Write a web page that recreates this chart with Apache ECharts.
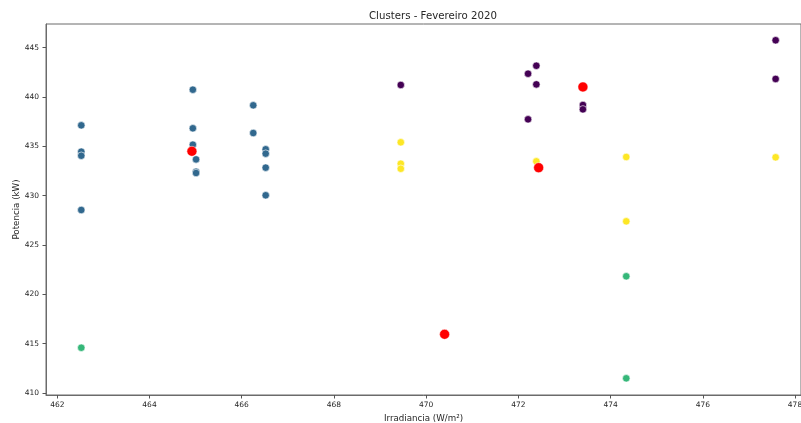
<!DOCTYPE html>
<html>
<head>
<meta charset="utf-8">
<script src="https://cdn.jsdelivr.net/npm/echarts@6/dist/echarts.min.js"></script>
<style>
  html, body { margin: 0; padding: 0; background: #fff; }
  #chart { width: 801px; height: 423px; }
</style>
</head>
<body>
<div id="chart"></div>
<script>
// Irradiance (W/m²) vs power (kW) observations, grouped by k-means cluster
const cluster0 = [
  [469.45, 441.22], [472.39, 443.17], [472.21, 442.36], [472.39, 441.28],
  [472.21, 437.74], [473.40, 439.19], [473.40, 438.75], [477.58, 445.75],
  [477.58, 441.83]
];
const cluster1 = [
  [462.52, 437.13], [462.52, 434.46], [462.52, 434.05], [462.52, 428.55],
  [464.94, 440.74], [464.94, 436.83], [464.94, 435.17],
  [465.01, 433.68], [465.01, 432.43], [465.01, 432.30],
  [466.25, 439.16], [466.25, 436.35],
  [466.52, 434.70], [466.52, 434.26], [466.52, 432.84], [466.52, 430.04]
];
const cluster2 = [
  [462.52, 414.59], [474.34, 421.83], [474.34, 411.49]
];
const cluster3 = [
  [469.45, 435.41], [469.45, 433.24], [469.45, 432.73], [472.39, 433.48],
  [474.34, 433.92], [474.34, 427.40], [477.58, 433.89]
];
const centroids = [
  [464.92, 434.50], [472.44, 432.84], [473.40, 441.02], [470.40, 415.95]
];

const clusterColors = ['#440154', '#31688e', '#35b779', '#fde725'];
const xTicks = [462, 464, 466, 468, 470, 472, 474, 476, 478];
const yTicks = [410, 415, 420, 425, 430, 435, 440, 445];

const font = 'DejaVu Sans';
const textColor = '#262626';

function clusterSeries(data, color) {
  return {
    type: 'scatter',
    data: data,
    symbolSize: 7.5,
    itemStyle: { color: color, borderColor: '#ffffff', borderWidth: 0.6, opacity: 1 },
    emphasis: { disabled: true }
  };
}

const chart = echarts.init(document.getElementById('chart'), null, { renderer: 'canvas' });
chart.setOption({
  animation: false,
  backgroundColor: '#ffffff',
  title: {
    text: 'Clusters - Fevereiro 2020',
    left: 364, top: 6,
    textStyle: { fontFamily: font, fontSize: 10.2, fontWeight: 'normal', color: textColor }
  },
  grid: {
    left: 46, right: 0, top: 24, bottom: 28,
    outerBoundsMode: 'none', containLabel: false,
    show: true, borderColor: '#6b6b6b', borderWidth: 1, backgroundColor: 'transparent'
  },
  xAxis: {
    type: 'value',
    min: 461.755, max: 478.13,
    name: 'Irradiancia (W/m²)',
    nameLocation: 'middle', nameGap: 19, nameMoveOverlap: false,
    nameTextStyle: { fontFamily: font, fontSize: 8.7, color: textColor },
    splitLine: { show: false },
    axisLine: { show: true, lineStyle: { color: '#6b6b6b', width: 1 } },
    axisTick: { show: true, length: 3.5, customValues: xTicks, lineStyle: { color: '#555' } },
    axisLabel: {
      customValues: xTicks, margin: 6,
      fontFamily: font, fontSize: 7.5, color: textColor
    }
  },
  yAxis: {
    type: 'value',
    min: 409.8, max: 447.4,
    name: 'Potencia (kW)',
    nameLocation: 'middle', nameGap: 25, nameMoveOverlap: false,
    nameTextStyle: { fontFamily: font, fontSize: 8.7, color: textColor },
    splitLine: { show: false },
    axisLine: { show: true, lineStyle: { color: '#6b6b6b', width: 1 } },
    axisTick: { show: true, length: 3.5, customValues: yTicks, lineStyle: { color: '#555' } },
    axisLabel: {
      customValues: yTicks, margin: 7,
      fontFamily: font, fontSize: 7.5, color: textColor
    }
  },
  series: [
    clusterSeries(cluster0, clusterColors[0]),
    clusterSeries(cluster1, clusterColors[1]),
    clusterSeries(cluster2, clusterColors[2]),
    clusterSeries(cluster3, clusterColors[3]),
    {
      type: 'scatter',
      data: centroids,
      symbolSize: 10,
      itemStyle: { color: '#ff0000', borderColor: '#ffffff', borderWidth: 0.5, opacity: 1 },
      emphasis: { disabled: true },
      z: 5
    }
  ]
});
</script>
</body>
</html>
